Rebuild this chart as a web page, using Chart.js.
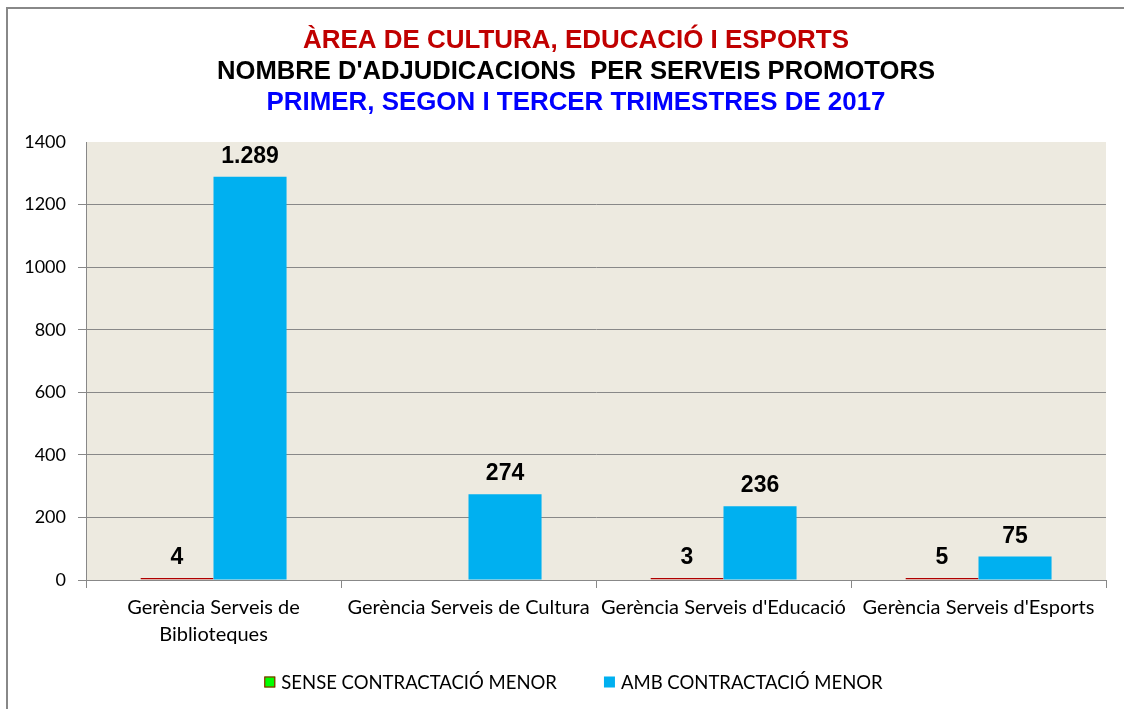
<!DOCTYPE html>
<html>
<head>
<meta charset="utf-8">
<script src="https://cdn.jsdelivr.net/npm/chart.js@4/dist/chart.umd.min.js"></script>
<style>
  html, body { margin: 0; padding: 0; background: #fff; overflow: hidden; }
  #wrap { position: relative; width: 1124px; height: 709px; }
  #frame { position: absolute; left: 6px; top: 7px; width: 1140px; height: 740px; border: 2px solid #888; box-sizing: border-box; }
  canvas { position: absolute; left: 0; top: 0; }
</style>
</head>
<body>
<div id="wrap">
  <div id="frame"></div>
  <canvas id="chart" width="1124" height="709"></canvas>
</div>
<script>
// data
const serveis = [
  ['Gerència Serveis de', 'Biblioteques'],
  'Gerència Serveis de Cultura',
  "Gerència Serveis d'Educació",
  "Gerència Serveis d'Esports"
];
const senseMenor = [4, null, 3, 5];
const ambMenor = [1289, 274, 236, 75];
const yTicks = [0, 200, 400, 600, 800, 1000, 1200, 1400];

const titleLines = [
  { text: 'ÀREA DE CULTURA, EDUCACIÓ I ESPORTS', color: '#C00000', y: 48, w: 546 },
  { text: "NOMBRE D'ADJUDICACIONS  PER SERVEIS PROMOTORS", color: '#000000', y: 79, w: 718 },
  { text: 'PRIMER, SEGON I TERCER TRIMESTRES DE 2017', color: '#0000FF', y: 110, w: 619 }
];

// catalan thousands separator
function fmt(v) {
  return String(v).replace(/\B(?=(\d{3})+(?!\d))/g, '.');
}

const plotBg = {
  id: 'plotBg',
  beforeDraw(chart) {
    const { ctx, chartArea: a } = chart;
    ctx.save();
    ctx.fillStyle = '#EDEAE0';
    ctx.fillRect(a.left, a.top, a.right - a.left, a.bottom - a.top);
    ctx.restore();
  }
};

const titles = {
  id: 'titles',
  afterDraw(chart) {
    const ctx = chart.ctx;
    ctx.save();
    ctx.font = 'bold 26px "Liberation Sans", Arial, sans-serif';
    ctx.textAlign = 'center';
    ctx.textBaseline = 'alphabetic';
    titleLines.forEach(t => {
      ctx.fillStyle = t.color;
      ctx.fillText(t.text, 576, t.y, t.w);
    });
    ctx.restore();
  }
};

const valueLabels = {
  id: 'valueLabels',
  afterDatasetsDraw(chart) {
    const ctx = chart.ctx;
    ctx.save();
    ctx.font = 'bold 23px "Liberation Sans", Arial, sans-serif';
    ctx.fillStyle = '#000';
    ctx.textAlign = 'center';
    ctx.textBaseline = 'alphabetic';
    chart.data.datasets.forEach((ds, i) => {
      chart.getDatasetMeta(i).data.forEach((bar, j) => {
        const v = ds.data[j];
        if (v === null || v === undefined) return;
        ctx.fillText(fmt(v), bar.x, Math.min(bar.y, chart.chartArea.bottom - 1) - 14);
      });
    });
    ctx.restore();
  }
};

// legend drawn at the bottom, like the original
const bottomLegend = {
  id: 'bottomLegend',
  afterDraw(chart) {
    const ctx = chart.ctx;
    const cy = 682, box = 11, textOff = 17, gapItem = 47;
    ctx.save();
    ctx.font = '18.5px Lato';
    ctx.textBaseline = 'middle';
    const items = chart.data.datasets.map(ds => ({
      ds, w: textOff + ctx.measureText(ds.label).width
    }));
    const total = items.reduce((s, it) => s + it.w, 0) + gapItem * (items.length - 1);
    let x = 573.5 - total / 2;
    items.forEach(({ ds, w }) => {
      ctx.fillStyle = ds.backgroundColor;
      ctx.fillRect(x, cy - box / 2, box, box);
      if (ds.borderWidth) {
        ctx.strokeStyle = ds.borderColor;
        ctx.lineWidth = 1;
        ctx.strokeRect(x + 0.5, cy - box / 2 + 0.5, box - 1, box - 1);
      }
      ctx.fillStyle = '#000';
      ctx.fillText(ds.label, x + textOff, cy + 1);
      x += w + gapItem;
    });
    ctx.restore();
  }
};

const ctx = document.getElementById('chart').getContext('2d');
new Chart(ctx, {
  type: 'bar',
  data: {
    labels: serveis,
    datasets: [{
      label: 'SENSE CONTRACTACIÓ MENOR',
      data: senseMenor,
      backgroundColor: '#00FF00',
      borderColor: '#B00000',
      borderWidth: 1,
      borderSkipped: false,
      minBarLength: 2,
      categoryPercentage: 0.573,
      barPercentage: 1
    }, {
      label: 'AMB CONTRACTACIÓ MENOR',
      data: ambMenor,
      backgroundColor: '#00B0F0',
      borderWidth: 0,
      categoryPercentage: 0.573,
      barPercentage: 1
    }]
  },
  options: {
    responsive: false,
    animation: false,
    layout: { padding: { top: 142, right: 18, left: 0, bottom: 61 } },
    plugins: {
      title: { display: false },
      tooltip: { enabled: false },
      legend: { display: false }
    },
    scales: {
      x: {
        afterFit(scale) {
          scale.height = 68;
        },
        grid: {
          drawOnChartArea: false,
          drawTicks: true,
          tickLength: 8,
          color: '#888'
        },
        border: { color: '#888', width: 1 },
        ticks: {
          color: '#000',
          font: { family: 'Lato', size: 20, lineHeight: 1.35 },
          padding: 6,
          maxRotation: 0,
          autoSkip: false
        }
      },
      y: {
        min: 0,
        max: 1400,
        afterBuildTicks(scale) {
          scale.ticks = yTicks.map(v => ({ value: v }));
        },
        afterFit(scale) {
          scale.width = 86;
        },
        grid: {
          tickLength: 8,
          color: c => (c.tick && c.tick.value === 1400 ? 'rgba(0,0,0,0)' : '#888')
        },
        border: { color: '#888', width: 1 },
        ticks: {
          color: '#000',
          font: { family: 'Lato', size: 18 },
          padding: 12,
          callback: v => String(v)
        }
      }
    }
  },
  plugins: [plotBg, titles, valueLabels, bottomLegend]
});
</script>
</body>
</html>
